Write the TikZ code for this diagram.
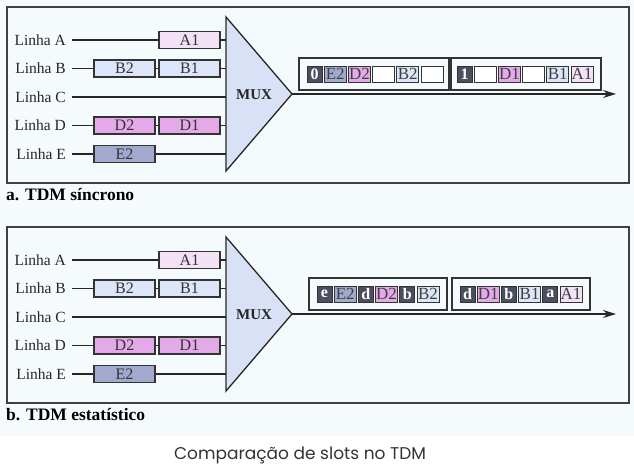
\documentclass[tikz,border=0pt]{standalone}
\usepackage{fontspec}
\setmainfont{Liberation Serif}
\newfontfamily\capfont{Poppins}
\usetikzlibrary{arrows.meta,positioning,fit}
\definecolor{bgc}{HTML}{F5FAFD}
\definecolor{colA}{HTML}{F3E1F6}
\definecolor{colB}{HTML}{DCE6F8}
\definecolor{colD}{HTML}{E3A9E8}
\definecolor{colE}{HTML}{A1A9CF}
\definecolor{tagc}{HTML}{4B4D61}
\definecolor{muxc}{HTML}{D9E1F7}
\tikzset{
	linha/.style={anchor=east, inner xsep=6pt, inner ysep=0pt, text=black!85, font=\fontsize{15.5}{15.5}\selectfont},
	fio/.style={draw=black!85, line width=1.6pt},
	slot/.style={draw=black!80, line width=1.2pt, minimum width=61pt, minimum height=17pt, inner sep=0pt, text=black!80, font=\fontsize{16}{16}\selectfont},
	cell/.style={draw=black!80, line width=1pt, minimum width=22pt, minimum height=16pt, inner sep=0pt, text=black!75, font=\fontsize{17}{17}\selectfont, fill=white},
	cW/.style={cell},
	cB/.style={cell, fill=colB},
	cD/.style={cell, fill=colD},
	cE/.style={cell, fill=colE},
	cA/.style={cell, fill=colA},
	tag/.style={cell, minimum width=15pt, fill=tagc, text=white, font=\bfseries\fontsize{16}{16}\selectfont},
	quadro/.style={draw=black!80, line width=1.6pt, inner sep=7.5pt},
	painel/.style={draw=black!75, line width=1.3pt}
}
\begin{document}
\begin{tikzpicture}[x=1pt,y=-1pt]
	\useasboundingbox (0,0) rectangle (634,471);
	\fill[bgc] (0,0) rectangle (634,436);
	% the two panels share lines, slots and the mux
	\foreach \p/\oy/\titulo in {a/0/{a. TDM síncrono},b/220/{b. TDM estatístico}}{
		\begin{scope}[yshift=-\oy pt]
			\draw[painel] (7,7) rectangle (629,183);
			\node[anchor=west, inner sep=0pt, font=\bfseries\fontsize{17.5}{17.5}\selectfont] (tit\p) at (6,195) {\titulo};
			\draw[fill=muxc, draw=black!85, line width=1.3pt] (226,17) -- (226,171) -- (292,94) -- cycle;
			\coordinate (tip\p) at (292,94);
			\node[font=\bfseries\fontsize{15}{15}\selectfont, text=black!85] (mux\p) at (254,95) {MUX};
			\foreach \l/\y in {A/40,B/68.5,C/97,D/125.5,E/154}{
				\node[linha] (l\l\p) at (72,\y) {Linha \l};
				\coordinate (in\l\p) at (226,\y);
				\draw[fio] (l\l\p) -- (in\l\p);
			}
			\foreach \s/\x/\y/\c in {A1/189.5/40/colA,B2/124.5/68.5/colB,B1/189.5/68.5/colB,D2/124.5/125.5/colD,D1/189.5/125.5/colD,E2/124.5/154/colE}
				\node[slot, fill=\c] (s\s\p) at (\x,\y) {\s};
			\coordinate (fim\p) at (616,94);
			\draw[fio,-{Stealth[length=13pt,width=8pt]}] (tip\p) -- (fim\p);
		\end{scope}
	}
	% frames of the synchronous output
	\node[tag] (qa1-0) at (314.5,74) {0};
	\foreach \sty/\lbl [count=\i] in {cE/E2,cD/D2,cW/,cB/B2,cW/}{
		\pgfmathtruncatemacro\j{\i-1}
		\node[\sty, right=1.2pt of qa1-\j] (qa1-\i) {\lbl};
	}
	\node[quadro, fit=(qa1-0)(qa1-5)] (qa1) {};
	\node[tag] (qa2-0) at (464.5,74) {1};
	\foreach \sty/\lbl [count=\i] in {cW/,cD/D1,cW/,cB/B1,cA/A1}{
		\pgfmathtruncatemacro\j{\i-1}
		\node[\sty, right=1.2pt of qa2-\j] (qa2-\i) {\lbl};
	}
	\node[quadro, fit=(qa2-0)(qa2-5)] (qa2) {};
	% frames of the statistical output
	\node[tag] (qb1-0) at (324.5,294) {e};
	\foreach \sty/\lbl [count=\i] in {cE/E2,tag/d,cD/D2,tag/b,cB/B2}{
		\pgfmathtruncatemacro\j{\i-1}
		\node[\sty, right=1.2pt of qb1-\j] (qb1-\i) {\lbl};
	}
	\node[quadro, fit=(qb1-0)(qb1-5)] (qb1) {};
	\node[tag] (qb2-0) at (467.5,294) {d};
	\foreach \sty/\lbl [count=\i] in {cD/D1,tag/b,cB/B1,tag/a,cA/A1}{
		\pgfmathtruncatemacro\j{\i-1}
		\node[\sty, right=1.2pt of qb2-\j] (qb2-\i) {\lbl};
	}
	\node[quadro, fit=(qb2-0)(qb2-5)] (qb2) {};
	\node[font=\capfont\fontsize{17}{17}\selectfont, text=black!80] (legenda) at (300,455) {Comparação de slots no TDM};
\end{tikzpicture}
\end{document}
